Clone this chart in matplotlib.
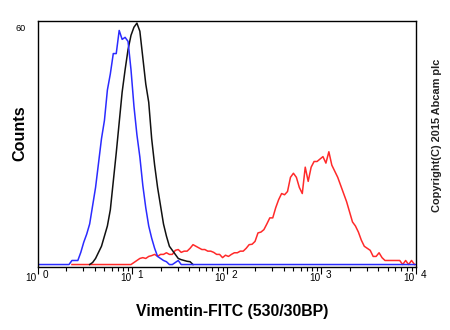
import numpy as np
import matplotlib
matplotlib.use('Agg')
import matplotlib.pyplot as plt
from matplotlib.ticker import LogLocator, NullFormatter

# 128 log-spaced channels from 10^0 to 10^4
n_bins = 128
decades = [0, 1, 2, 3, 4]

blue = [0] * 11 + [
    1, 1, 1, 3, 5.5, 7.5, 10, 14.5, 19, 25,
    31, 35.5, 43, 47, 52, 52, 57.7, 55.5, 56, 55,
    48, 39, 32, 26.5, 19.5, 14, 9.5, 6.5, 4, 2,
    1.5, 1, 0.7, 0, 0, 0.5, 1,
]
blue = blue + [0] * (n_bins - len(blue))

black = [0] * 18 + [
    0.5, 1.5, 3, 4.5, 7, 9.5, 13.5, 20.5, 27.5, 35,
    42.5, 48, 53, 56.5, 58.5, 59.5, 57.5, 51, 44.5, 40,
    31, 24.5, 19, 14.5, 10, 7, 4.5, 3.5, 2.5, 1.5,
    1.2, 1, 0.8, 0.7,
]
black = black + [0] * (n_bins - len(black))

red = [0] * 32 + [
    0.5, 1, 1.5, 1.7, 1.5, 2, 2.2, 2.5, 2, 2.5,
    2.5, 2.9, 2.5, 2.5, 3.5, 3.7, 3, 3.3, 3.3, 4,
    4.9, 4.5, 4.1, 3.7, 3.7, 3.3, 3.3, 3, 2.5, 2.5,
    1.7, 2.3, 2, 2.5, 2.9, 2.9, 3.3, 3.3, 4, 4.9,
    5, 5.7, 7.8, 8, 8.6, 10, 11.5, 11.5, 14, 16,
    17.5, 17.2, 18, 21.5, 22.5, 21.5, 19, 17.5, 24, 20.5,
    24, 25.4, 25.4, 26, 26.6, 25, 27.8, 24.5, 23, 21.5,
    19.5, 17.5, 15.5, 13, 10.5, 9.5, 8, 6, 4.5, 4,
    3.5, 2, 2, 2.9, 1.7, 1, 1, 1, 1, 1,
    1, 0, 1, 0, 1, 0,
]

edges = np.logspace(decades[0], decades[-1], n_bins + 1)
centers = np.sqrt(edges[:-1] * edges[1:])
red = np.array(red)
black = np.array(black)
blue = np.array(blue)

fig = plt.figure(figsize=(4.5, 3.3), dpi=100)
ax = fig.add_axes([0.0844, 0.191, 0.84, 0.745])

ax.plot(centers[11:], red[11:], color='#ff2a2a', lw=1.1)
ax.plot(centers[17:53], black[17:53], color='#111111', lw=1.1)
ax.plot(np.r_[1, centers, 1e4], np.r_[0, blue, 0], color='#2b2bff', lw=1.1)

ax.set_xscale('log')
ax.set_xlim(1, 1e4)
ax.set_ylim(-0.6, 60)

for s in ax.spines.values():
    s.set_linewidth(1.0)
    s.set_color('black')

ax.xaxis.set_major_locator(LogLocator(base=10, numticks=10))
ax.xaxis.set_minor_locator(LogLocator(base=10, subs=np.arange(2, 10), numticks=10))
ax.xaxis.set_major_formatter(NullFormatter())
ax.xaxis.set_minor_formatter(NullFormatter())
ax.tick_params(axis='x', which='major', length=5, width=0.8, direction='out')
ax.tick_params(axis='x', which='minor', length=3, width=0.8, direction='out')
ax.set_yticks([])

ax.text(-0.032, 0.9695, '60', transform=ax.transAxes, ha='right', va='center',
        fontsize=6.5, family='Liberation Sans')

# decade labels drawn as "10" plus raised exponent
trans = ax.get_xaxis_transform()
for d in decades:
    ax.text(10 ** d / 1.03, -0.024, '10', transform=trans, ha='right', va='top',
            fontsize=7.2, family='Liberation Sans')
    ax.text(10 ** d * 1.12, -0.014, str(d), transform=trans, ha='left', va='top',
            fontsize=7.2, family='Liberation Sans')

fig.text(0.515, 0.055, 'Vimentin-FITC (530/30BP)', ha='center', va='center',
         fontsize=11.4, fontweight='bold', family='Liberation Sans')
fig.text(0.045, 0.595, 'Counts', ha='center', va='center', rotation=90,
         fontsize=11.6, fontweight='bold', family='Liberation Sans')
fig.text(0.972, 0.59, 'Copyright(C) 2015 Abcam plc', ha='center', va='center',
         rotation=90, fontsize=7.9, fontweight='bold', family='Liberation Sans',
         color='#222222')

fig.savefig('out.png', dpi=100)
